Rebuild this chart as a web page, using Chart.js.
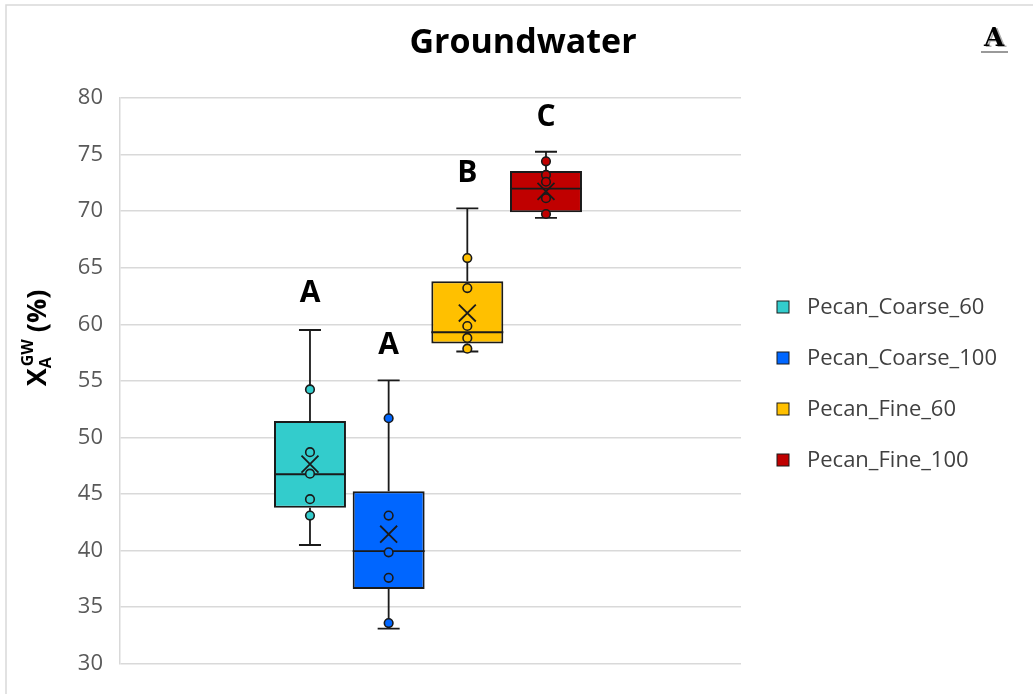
<!DOCTYPE html>
<html>
<head>
<meta charset="utf-8">
<title>Groundwater</title>
<script src="https://cdn.jsdelivr.net/npm/chart.js@4.4.1/dist/chart.umd.min.js"></script>
<style>
    html, body { margin: 0; padding: 0; background: #fff; }
    #wrap { width: 1033px; height: 694px; position: relative; }
</style>
</head>
<body>
<div id="wrap"><canvas id="boxChart"></canvas></div>
<script>
// ============================================
// DATA
// ============================================

const categories = ['Pecan_Coarse_60', 'Pecan_Coarse_100', 'Pecan_Fine_60', 'Pecan_Fine_100'];
const seriesColors = ['#33CCCC', '#0066FF', '#FFC000', '#C00000'];

const whiskerLow = [40.5, 33.1, 57.6, 69.4];
const quartile1 = [43.8, 36.6, 58.3, 69.9];
const medians = [46.75, 39.95, 59.3, 72.0];
const quartile3 = [51.45, 45.25, 63.8, 73.55];
const whiskerHigh = [59.5, 55.05, 70.25, 75.25];
const means = [47.65, 41.45, 61.0, 71.75];

const innerPoints = [
    [54.25, 48.7, 46.8, 44.55, 43.1],
    [51.7, 43.1, 39.85, 37.6, 33.6],
    [65.85, 63.2, 59.85, 58.8, 57.85],
    [74.4, 73.2, 72.6, 71.15, 69.75]
];

const groupLetters = ['A', 'A', 'B', 'C'];
const letterLevels = [62.7, 58.1, 73.3, 78.3];

const yMin = 30;
const yMax = 80;
const yStep = 5;

const FONT = '"Open Sans", "Noto Sans", sans-serif';

// ============================================
// PLUGINS
// ============================================

// whiskers + median, drawn right after the boxes (under the points)
const boxExtras = {
    id: 'boxExtras',
    afterDatasetDraw(chart, args) {
        if (args.index !== 0) return;
        const { ctx } = chart;
        const xs = chart.scales.x;
        const ys = chart.scales.y;
        ctx.save();
        ctx.strokeStyle = '#1a1a1a';
        ctx.lineWidth = 1.8;
        categories.forEach((_, i) => {
            const bar = args.meta.data[i];
            const cx = xs.getPixelForValue(i + 1);
            const half = bar.width / 2;
            const cap = 11;
            const yLo = ys.getPixelForValue(whiskerLow[i]);
            const yQ1 = ys.getPixelForValue(quartile1[i]);
            const yQ3 = ys.getPixelForValue(quartile3[i]);
            const yHi = ys.getPixelForValue(whiskerHigh[i]);
            const yMed = ys.getPixelForValue(medians[i]);

            ctx.beginPath();
            ctx.moveTo(cx, yQ3); ctx.lineTo(cx, yHi);
            ctx.moveTo(cx - cap, yHi); ctx.lineTo(cx + cap, yHi);
            ctx.moveTo(cx, yQ1); ctx.lineTo(cx, yLo);
            ctx.moveTo(cx - cap, yLo); ctx.lineTo(cx + cap, yLo);
            ctx.moveTo(cx - half, yMed); ctx.lineTo(cx + half, yMed);
            ctx.stroke();
        });
        ctx.restore();
    }
};

// title, axis title, letters, legend, frame
const decorations = {
    id: 'decorations',
    beforeDraw(chart) {
        const { ctx } = chart;
        ctx.save();
        ctx.strokeStyle = '#d9d9d9';
        ctx.lineWidth = 1.5;
        ctx.strokeRect(6, 5, 1200, 900);
        ctx.restore();
    },
    afterDraw(chart) {
        const { ctx } = chart;
        const xs = chart.scales.x;
        const ys = chart.scales.y;
        ctx.save();

        // Title
        ctx.fillStyle = '#000';
        ctx.font = 'bold 34px ' + FONT;
        ctx.textAlign = 'center';
        ctx.textBaseline = 'middle';
        ctx.fillText('Groundwater', 523, 43);

        // Significance letters
        ctx.font = 'bold 30px ' + FONT;
        groupLetters.forEach((letter, i) => {
            ctx.fillText(letter, xs.getPixelForValue(i + 1), ys.getPixelForValue(letterLevels[i]));
        });

        // Y axis title: X_A^GW (%)
        ctx.save();
        ctx.translate(37, 338);
        ctx.rotate(-Math.PI / 2);
        ctx.textAlign = 'left';
        ctx.textBaseline = 'alphabetic';
        const big = 'bold 27px ' + FONT;
        const small = 'bold 16px ' + FONT;
        ctx.font = big;
        const wX = ctx.measureText('X').width;
        ctx.font = small;
        const wA = ctx.measureText('A').width;
        const wGW = ctx.measureText('GW').width;
        ctx.font = big;
        const wRest = ctx.measureText(' (%)').width;
        const total = wX + Math.max(wA, wGW + 2) + wRest;
        let x0 = -total / 2;
        const base = 9;
        ctx.fillText('X', x0, base);
        ctx.font = small;
        ctx.fillText('A', x0 + wX, base + 5);
        ctx.fillText('GW', x0 + wX + 2, base - 13);
        ctx.font = big;
        ctx.fillText(' (%)', x0 + wX + Math.max(wA, wGW + 2), base);
        ctx.restore();

        // Legend
        ctx.font = '22px ' + FONT;
        ctx.textAlign = 'left';
        ctx.textBaseline = 'middle';
        categories.forEach((name, i) => {
            const cy = 307 + i * 51;
            ctx.fillStyle = seriesColors[i];
            ctx.fillRect(777, cy - 6, 12, 12);
            ctx.strokeStyle = '#1a1a1a';
            ctx.lineWidth = 1;
            ctx.strokeRect(777, cy - 6, 12, 12);
            ctx.fillStyle = '#404040';
            ctx.fillText(name, 807, cy + 1);
        });

        // Panel tag in the corner
        ctx.font = 'bold 26px "DejaVu Serif", serif';
        ctx.textAlign = 'center';
        ctx.fillStyle = '#b0b0b0';
        ctx.fillText('A', 996, 40);
        ctx.fillStyle = '#000';
        ctx.fillText('A', 994, 39);
        ctx.fillStyle = '#9a9a9a';
        ctx.fillRect(981, 51, 27, 2);

        ctx.restore();
    }
};

// ============================================
// CHART
// ============================================

function buildDatasets() {
    const datasets = [];

    datasets.push({
        type: 'bar',
        label: 'boxes',
        data: categories.map((_, i) => ({ x: i + 1, y: [quartile1[i], quartile3[i]] })),
        backgroundColor: seriesColors,
        borderColor: '#1a1a1a',
        borderWidth: 2,
        borderSkipped: false,
        categoryPercentage: 1,
        barPercentage: 0.915,
        order: 10
    });

    categories.forEach((name, i) => {
        datasets.push({
            type: 'scatter',
            label: name,
            data: innerPoints[i].map(v => ({ x: i + 1, y: v })),
            pointBackgroundColor: seriesColors[i],
            pointBorderColor: '#1a1a1a',
            pointBorderWidth: 1.6,
            pointRadius: 4.3,
            order: 2
        });
    });

    datasets.push({
        type: 'scatter',
        label: 'mean',
        data: categories.map((_, i) => ({ x: i + 1, y: means[i] })),
        pointStyle: 'crossRot',
        pointRadius: 12,
        pointBorderColor: '#1a1a1a',
        pointBorderWidth: 1.8,
        order: 1
    });

    return datasets;
}

const ctx = document.getElementById('boxChart');
ctx.width = 1033;
ctx.height = 694;

new Chart(ctx, {
    data: { datasets: buildDatasets() },
    options: {
        responsive: false,
        animation: false,
        layout: { padding: { left: 0, right: 292, top: 98, bottom: 29 } },
        plugins: {
            legend: { display: false },
            title: { display: false },
            tooltip: { enabled: false }
        },
        scales: {
            x: {
                type: 'linear',
                display: false,
                min: -1.415,
                max: 6.479,
                offset: false
            },
            y: {
                min: yMin,
                max: yMax,
                afterFit(scale) { scale.width = 120; },
                ticks: {
                    stepSize: yStep,
                    padding: 17,
                    color: '#595959',
                    font: { family: FONT, size: 22 }
                },
                grid: { color: '#d9d9d9', lineWidth: 1.5, drawTicks: false },
                border: { color: '#d9d9d9', width: 1.5 }
            }
        }
    },
    plugins: [boxExtras, decorations]
});
</script>
</body>
</html>
